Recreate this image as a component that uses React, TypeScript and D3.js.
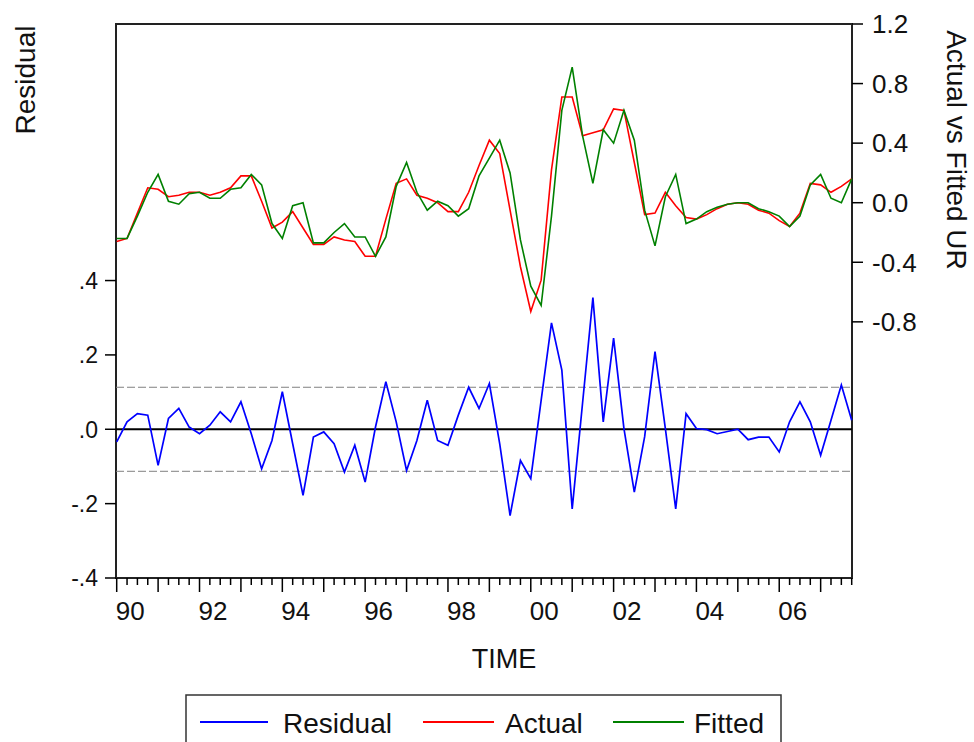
import * as d3 from "d3";

// quarterly sample 1990Q1 - 2007Q4
const quarters = d3.range(72).map((i) => 1990 + i / 4);

const residual = [
  -0.034, 0.02, 0.042, 0.038, -0.097, 0.029, 0.056, 0.006, -0.012, 0.011,
  0.047, 0.02, 0.074, -0.012, -0.106, -0.03, 0.101, -0.039, -0.178, -0.021,
  -0.007, -0.039, -0.115, -0.043, -0.142, 0.006, 0.128, 0.02, -0.111, -0.03,
  0.078, -0.03, -0.043, 0.038, 0.113, 0.056, 0.123, -0.039, -0.232, -0.084,
  -0.133, 0.078, 0.286, 0.159, -0.214, 0.07, 0.354, 0.02, 0.245, 0.002,
  -0.169, -0.02, 0.209, 0.002, -0.214, 0.042, 0.002, -0.001, -0.012, -0.006,
  0.0, -0.028, -0.021, -0.021, -0.061, 0.02, 0.074, 0.02, -0.07, 0.024,
  0.119, 0.024,
];

const actual = [
  -0.26, -0.24, -0.07, 0.1, 0.09, 0.04, 0.05, 0.07, 0.07, 0.05,
  0.07, 0.1, 0.18, 0.18, 0.01, -0.17, -0.13, -0.06, -0.17, -0.28,
  -0.28, -0.23, -0.25, -0.26, -0.36, -0.36, -0.11, 0.13, 0.16, 0.05,
  0.03, 0.0, -0.06, -0.06, 0.07, 0.25, 0.42, 0.33, -0.05, -0.43,
  -0.73, -0.52, 0.22, 0.71, 0.71, 0.45, 0.47, 0.49, 0.63, 0.62,
  0.27, -0.08, -0.07, 0.07, -0.02, -0.1, -0.11, -0.08, -0.04, -0.01,
  0.0, -0.01, -0.05, -0.07, -0.12, -0.16, -0.07, 0.13, 0.12, 0.07,
  0.11, 0.16,
];

const fitted = [
  -0.24, -0.24, -0.09, 0.07, 0.19, 0.01, -0.01, 0.06, 0.07, 0.03,
  0.03, 0.09, 0.1, 0.19, 0.12, -0.14, -0.24, -0.02, 0.0, -0.27,
  -0.27, -0.2, -0.14, -0.23, -0.23, -0.36, -0.23, 0.11, 0.27, 0.07,
  -0.05, 0.01, -0.02, -0.09, -0.04, 0.18, 0.3, 0.42, 0.2, -0.25,
  -0.56, -0.69, -0.09, 0.62, 0.91, 0.45, 0.13, 0.49, 0.4, 0.62,
  0.42, -0.05, -0.29, 0.04, 0.19, -0.14, -0.11, -0.06, -0.03, -0.01,
  0.0, 0.0, -0.04, -0.06, -0.09, -0.16, -0.09, 0.12, 0.19, 0.03,
  0.0, 0.16,
];

const stdErr = 0.113;

const residTicks = [-0.4, -0.2, 0, 0.2, 0.4];
const residTickLabels = ["-.4", "-.2", ".0", ".2", ".4"];
const afTicks = [-0.8, -0.4, 0, 0.4, 0.8, 1.2];
const afTickLabels = ["-0.8", "-0.4", "0.0", "0.4", "0.8", "1.2"];
const labelYears = [1990, 1992, 1994, 1996, 1998, 2000, 2002, 2004, 2006];
const labelText = ["90", "92", "94", "96", "98", "00", "02", "04", "06"];

const FONT = "'Liberation Sans', Arial, sans-serif";

export default function App() {
  const W = 974;
  const H = 742;
  const left = 116;
  const right = 852;
  const top = 24;
  const bottom = 578;

  const x = d3.scaleLinear().domain([1990, 2007.75]).range([116.7, 851.7]);
  const yRes = d3.scaleLinear().domain([-0.4, 1.09]).range([bottom, top]);
  const yAF = d3.scaleLinear().domain([-2.52, 1.2]).range([bottom, top]);

  const lineRes = d3
    .line<number>()
    .x((_, i) => x(quarters[i]))
    .y((d) => yRes(d));
  const lineAF = d3
    .line<number>()
    .x((_, i) => x(quarters[i]))
    .y((d) => yAF(d));

  const qTicks = d3.range(1990, 2007.76, 0.25);

  return (
    <svg
      width={W}
      height={H}
      style={{ position: "absolute", left: 0, top: 0, background: "#fff" }}
      fontFamily={FONT}
    >
      {/* frame */}
      <rect
        x={left}
        y={top}
        width={right - left}
        height={bottom - top}
        fill="none"
        stroke="#222"
        strokeWidth={2}
      />

      {/* +/- one std error bands */}
      {[stdErr, -stdErr].map((v) => (
        <line
          key={v}
          x1={left}
          x2={right}
          y1={yRes(v)}
          y2={yRes(v)}
          stroke="#808080"
          strokeWidth={1}
          strokeDasharray="8,3"
        />
      ))}
      <line x1={left} x2={right} y1={yRes(0)} y2={yRes(0)} stroke="#000" strokeWidth={2} />

      {/* series */}
      <path d={lineRes(residual) || ""} fill="none" stroke="#0000ff" strokeWidth={1.7} />
      <path d={lineAF(actual) || ""} fill="none" stroke="#ff0000" strokeWidth={1.6} />
      <path d={lineAF(fitted) || ""} fill="none" stroke="#008000" strokeWidth={1.6} />

      {/* left axis */}
      {residTicks.map((t, i) => (
        <g key={t}>
          <line x1={left - 11} x2={left} y1={yRes(t)} y2={yRes(t)} stroke="#000" strokeWidth={1.5} />
          <text x={left - 18} y={yRes(t)} dy="0.36em" textAnchor="end" fontSize={23} fill="#111">
            {residTickLabels[i]}
          </text>
        </g>
      ))}
      <text
        transform={`translate(35,80) rotate(-90)`}
        textAnchor="middle"
        fontSize={28}
        fill="#111"
      >
        Residual
      </text>

      {/* right axis */}
      {afTicks.map((t, i) => (
        <g key={t}>
          <line x1={right} x2={right + 11} y1={yAF(t)} y2={yAF(t)} stroke="#000" strokeWidth={1.5} />
          <text x={right + 20} y={yAF(t)} dy="0.36em" textAnchor="start" fontSize={26} fill="#111">
            {afTickLabels[i]}
          </text>
        </g>
      ))}
      <text
        transform={`translate(947,150) rotate(90)`}
        textAnchor="middle"
        fontSize={28}
        fill="#111"
      >
        Actual vs Fitted UR
      </text>

      {/* bottom axis */}
      {qTicks.map((t) => {
        const major = Math.abs(t - Math.round(t)) < 1e-9;
        return (
          <line
            key={t}
            x1={x(t)}
            x2={x(t)}
            y1={bottom}
            y2={bottom + (major ? 14 : 7)}
            stroke="#000"
            strokeWidth={1.5}
          />
        );
      })}
      {labelYears.map((yr, i) => (
        <text key={yr} x={x(yr) - 1} y={620} textAnchor="start" fontSize={26} fill="#111">
          {labelText[i]}
        </text>
      ))}
      <text x={504} y={668} textAnchor="middle" fontSize={27} fill="#111">
        TIME
      </text>

      {/* legend */}
      <rect x={186} y={695} width={595} height={60} fill="none" stroke="#333" strokeWidth={1.5} />
      <line x1={200} x2={268} y1={722} y2={722} stroke="#0000ff" strokeWidth={2} />
      <text x={283} y={733} fontSize={28} fill="#111">Residual</text>
      <line x1={423} x2={494} y1={722} y2={722} stroke="#ff0000" strokeWidth={2} />
      <text x={505} y={733} fontSize={28} fill="#111">Actual</text>
      <line x1={613} x2={684} y1={722} y2={722} stroke="#008000" strokeWidth={2} />
      <text x={694} y={733} fontSize={28} fill="#111">Fitted</text>
    </svg>
  );
}
